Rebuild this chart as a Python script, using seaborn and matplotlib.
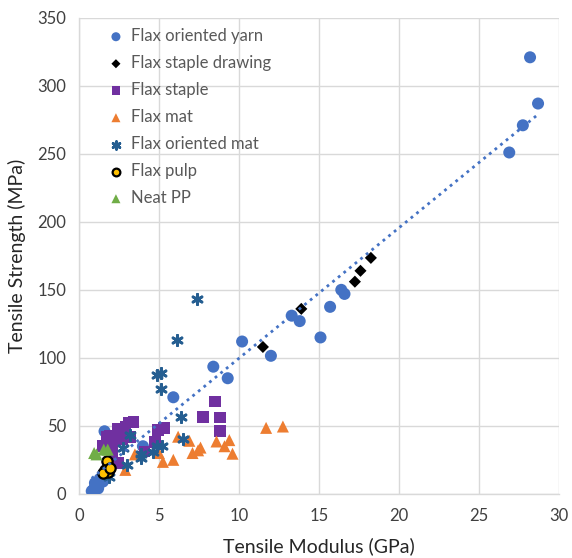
import matplotlib
matplotlib.use("Agg")
import matplotlib.pyplot as plt
import seaborn as sns
import pandas as pd
import numpy as np

# ---- data ----
yarn_x = [28.2, 28.7, 27.75, 26.9, 16.4, 16.6, 15.7, 15.1, 13.3, 13.8, 12.0, 10.2, 8.4, 9.3, 5.9,
          4.0, 1.6, 0.9, 1.0, 1.1, 1.2, 1.3, 1.4, 1.5, 1.6, 1.2, 1.0, 1.5, 1.7, 0.8, 1.3]
yarn_y = [321, 287, 271, 251, 150, 147, 137.5, 115, 131, 127, 101.5, 112, 93.5, 85, 71,
          35, 46, 3, 5, 6, 7, 8, 10, 12, 14, 4, 8, 9, 16, 2, 11]

drawing_x = [11.5, 13.9, 17.25, 17.6, 18.25]
drawing_y = [108, 136, 156, 164, 173.5]

staple_x = [8.5, 7.75, 8.8, 8.8, 5.3, 4.95, 4.75, 4.1, 3.4, 3.1, 2.9, 2.45, 2.4, 1.95, 1.75,
            2.1, 1.5, 2.05, 2.45, 2.1, 3.2, 2.7, 1.9]
staple_y = [68, 56.5, 56, 46, 48.5, 47, 38, 31, 53, 52.5, 49.5, 48, 45, 43, 42,
            37, 35, 30, 22.5, 25, 42, 40, 38]

mat_x = [6.2, 6.9, 7.6, 7.45, 7.1, 8.6, 9.1, 9.4, 9.6, 5.25, 5.9, 5.0, 3.5, 2.9, 11.7, 12.75]
mat_y = [42, 39, 34, 32, 30, 38.5, 35, 39.5, 29.5, 23.5, 25, 30, 29, 17.6, 48.5, 49.5]

omat_x = [7.4, 6.1, 4.85, 5.1, 5.1, 6.4, 6.5, 5.2, 4.9, 4.6, 3.9, 3.2, 2.75, 3.0, 1.9, 3.9]
omat_y = [143.5, 113, 87.5, 89, 77, 56.5, 40, 35, 35, 31, 29, 43, 34, 21, 12.5, 26]

pulp_x = [1.75, 1.6, 1.8, 1.5, 1.95]
pulp_y = [24, 17.6, 16, 15.5, 19]

pp_x = [0.95, 1.8, 1.55, 1.1]
pp_y = [30, 32.5, 32.5, 29]

trend_x = [0.8, 28.7]
trend_y = [11.4, 279]

series = ["Flax oriented yarn", "Flax staple drawing", "Flax staple", "Flax mat",
          "Flax oriented mat", "Flax pulp", "Neat PP"]

# ---- style ----
sns.set_theme(style="white")
plt.rcParams["font.family"] = ["Lato", "DejaVu Sans"]

fig = plt.figure(figsize=(5.72, 5.58), dpi=100)
ax = fig.add_axes([0.138, 0.115, 0.839, 0.853])

styles = [
    (yarn_x, yarn_y, dict(marker="o", s=75, color="#4472C4", edgecolor="none")),
    (drawing_x, drawing_y, dict(marker="D", s=38, color="black", edgecolor="none")),
    (staple_x, staple_y, dict(marker="s", s=70, color="#7030A0", edgecolor="none")),
    (mat_x, mat_y, dict(marker="^", s=75, color="#ED7D31", edgecolor="none")),
    (omat_x, omat_y, dict(marker=(6, 2, 0), s=55, color="#255E91", linewidths=2.0)),
    (pulp_x, pulp_y, dict(marker="o", s=55, color="#FFC000", edgecolor="black", linewidth=1.6)),
    (pp_x, pp_y, dict(marker="^", s=75, color="#70AD47", edgecolor="none")),
]

for name, (xs, ys, kw) in zip(series, styles):
    df = pd.DataFrame({"x": xs, "y": ys})
    sns.scatterplot(data=df, x="x", y="y", ax=ax, label=name, zorder=3, **kw)

tdf = pd.DataFrame({"x": trend_x, "y": trend_y})
sns.lineplot(data=tdf, x="x", y="y", ax=ax, color="#4472C4", linestyle=(0, (1, 1.6)),
             linewidth=2.0, zorder=4, legend=False)

ax.set_xlim(0, 30)
ax.set_ylim(0, 350)
ax.set_xticks(range(0, 31, 5))
ax.set_yticks(range(0, 351, 50))
ax.grid(True, color="#D9D9D9", linewidth=1.0)
ax.set_axisbelow(True)
for s in ["top", "right"]:
    ax.spines[s].set_visible(False)
for s in ["left", "bottom"]:
    ax.spines[s].set_color("#D9D9D9")
    ax.spines[s].set_linewidth(1.0)
ax.tick_params(axis="both", length=0, labelsize=12, labelcolor="#404040")
ax.tick_params(axis="x", pad=10)
ax.tick_params(axis="y", pad=9)

ax.set_xlabel("Tensile Modulus (GPa)", fontsize=14, color="#262626", labelpad=10)
ax.set_ylabel("Tensile Strength (MPa)", fontsize=14, color="#262626", labelpad=8)

leg = ax.legend(loc="upper left", bbox_to_anchor=(0.025, 1.01), frameon=False,
                fontsize=12, labelspacing=0.66, handletextpad=0.3, markerscale=0.75,
                handlelength=1.2)
for t in leg.get_texts():
    t.set_color("#595959")

fig.savefig("out.png", dpi=100)
